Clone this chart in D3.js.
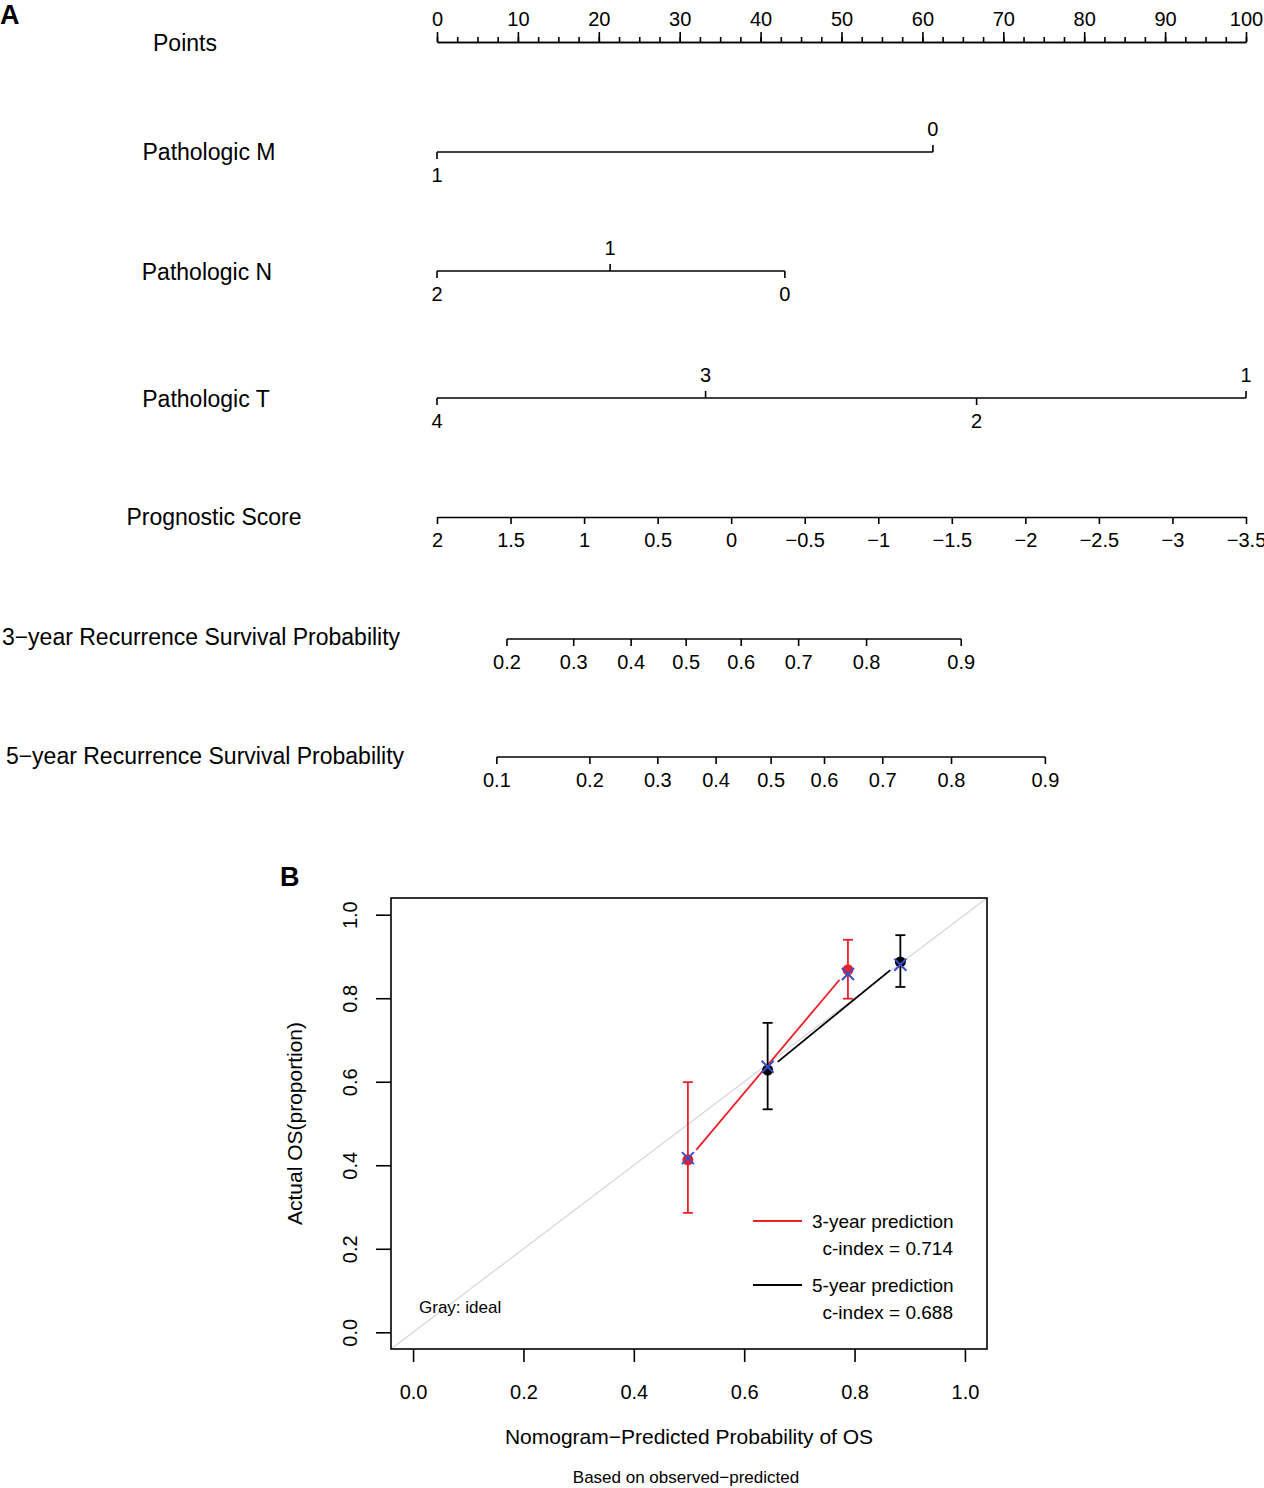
<!DOCTYPE html>
<html>
<head>
<meta charset="utf-8">
<script src="https://cdn.jsdelivr.net/npm/d3@7"></script>
<style>
  body { margin: 0; background: #fff; }
  svg { display: block; font-family: "Liberation Sans", Arial, sans-serif; }
</style>
</head>
<body>
<div id="chart"></div>
<script>
// ---- nomogram data (positions on the 0-100 Points scale) ----
let pointsLabels = [0, 10, 20, 30, 40, 50, 60, 70, 80, 90, 100];

let mLevels = ["1", "0"];
let mPoints = [0, 61.3];

let nLevels = ["2", "1", "0"];
let nPoints = [0, 21.4, 43.0];

let tLevels = ["4", "3", "2", "1"];
let tPoints = [0, 33.2, 66.7, 100];

let scoreTicks = [2, 1.5, 1, 0.5, 0, -0.5, -1, -1.5, -2, -2.5, -3, -3.5];

let surv3Ticks = [0.2, 0.3, 0.4, 0.5, 0.6, 0.7, 0.8, 0.9];
let surv3Points = [8.65, 16.9, 24.0, 30.8, 37.6, 44.7, 53.1, 64.8];

let surv5Ticks = [0.1, 0.2, 0.3, 0.4, 0.5, 0.6, 0.7, 0.8, 0.9];
let surv5Points = [7.4, 18.9, 27.3, 34.5, 41.3, 47.9, 55.1, 63.6, 75.2];

// ---- calibration data ----
let cal3Pred = [0.498, 0.788];
let cal3Obs = [0.413, 0.868];
let cal3Corr = [0.417, 0.858];
let cal3Lo = [0.286, 0.799];
let cal3Hi = [0.599, 0.940];

let cal5Pred = [0.6425, 0.883];
let cal5Obs = [0.628, 0.887];
let cal5Corr = [0.636, 0.880];
let cal5Lo = [0.534, 0.827];
let cal5Hi = [0.741, 0.951];

let calTicks = [0, 0.2, 0.4, 0.6, 0.8, 1.0];

let svgWidth = 1264;
let svgHeight = 1488;

let svg = d3.select("#chart").append("svg")
    .attr("width", svgWidth)
    .attr("height", svgHeight);

let red = "#ec2027";
let blue = "#3b4fc4";

// ================= Panel A =================
svg.append("text")
    .attr("x", 0).attr("y", 24)
    .attr("font-size", 27).attr("font-weight", "bold")
    .text("A");

let xPts = d3.scaleLinear().domain([0, 100]).range([437, 1246]);

// row names
let rowNames = [
    {name: "Points", x: 185, y: 43},
    {name: "Pathologic M", x: 209, y: 152},
    {name: "Pathologic N", x: 207, y: 272},
    {name: "Pathologic T", x: 206, y: 399},
    {name: "Prognostic Score", x: 214, y: 517},
    {name: "3\u2212year Recurrence Survival Probability", x: 201, y: 637},
    {name: "5\u2212year Recurrence Survival Probability", x: 205, y: 756}
];

svg.selectAll(".rowName")
    .data(rowNames)
    .enter()
    .append("text")
    .attr("class", "rowName")
    .attr("x", d => d.x)
    .attr("y", d => d.y)
    .attr("dy", "0.35em")
    .attr("text-anchor", "middle")
    .attr("font-size", 23)
    .text(d => d.name);

// Points axis
let ptsG = svg.append("g").attr("transform", "translate(0, 42)");
ptsG.call(d3.axisTop(xPts)
    .tickValues(d3.range(0, 100.1, 2.5))
    .tickSize(5).tickSizeOuter(0).tickFormat(""));
ptsG.append("g").call(d3.axisTop(xPts)
    .tickValues(pointsLabels)
    .tickSize(10).tickSizeOuter(0).tickPadding(6));
ptsG.selectAll("text").attr("font-size", 20).attr("fill", "#000")
    .attr("font-family", "Liberation Sans, Arial, sans-serif");
ptsG.selectAll("path, line").attr("stroke", "#000").attr("stroke-width", 1.6);

// categorical rows: labels alternate below / above
function drawRow(y, pos, labels, sides) {
    let g = svg.append("g").attr("transform", `translate(0, ${y})`);
    g.append("line")
        .attr("x1", xPts(d3.min(pos))).attr("x2", xPts(d3.max(pos)))
        .attr("y1", 0).attr("y2", 0)
        .attr("stroke", "#000").attr("stroke-width", 1.6);
    let items = pos.map((p, i) => ({p: p, label: labels[i], side: sides[i]}));
    g.selectAll(".tk").data(items).enter().append("line")
        .attr("x1", d => xPts(d.p)).attr("x2", d => xPts(d.p))
        .attr("y1", 0).attr("y2", d => d.side * 7)
        .attr("stroke", "#000").attr("stroke-width", 1.6);
    g.selectAll(".lb").data(items).enter().append("text")
        .attr("x", d => xPts(d.p))
        .attr("y", d => d.side * 23)
        .attr("dy", "0.35em")
        .attr("text-anchor", "middle")
        .attr("font-size", 20)
        .text(d => d.label);
}

drawRow(152, mPoints, mLevels, [1, -1]);
drawRow(271, nPoints, nLevels, [1, -1, 1]);
drawRow(398, tPoints, tLevels, [1, -1, 1, -1]);

// Prognostic score axis
let xScore = d3.scaleLinear().domain([2, -3.5]).range([437, 1246]);
let scoreG = svg.append("g").attr("transform", "translate(0, 517)");
scoreG.call(d3.axisBottom(xScore)
    .tickValues(scoreTicks)
    .tickSize(7).tickSizeOuter(0).tickPadding(9)
    .tickFormat(d => String(d).replace("-", "\u2212")));
scoreG.selectAll("text").attr("font-size", 20).attr("fill", "#000")
    .attr("font-family", "Liberation Sans, Arial, sans-serif");
scoreG.selectAll("path, line").attr("stroke", "#000").attr("stroke-width", 1.6);

// survival probability rows
drawRow(639, surv3Points, surv3Ticks.map(String), surv3Ticks.map(() => 1));
drawRow(757, surv5Points, surv5Ticks.map(String), surv5Ticks.map(() => 1));

// ================= Panel B =================
svg.append("text")
    .attr("x", 280).attr("y", 886)
    .attr("font-size", 27).attr("font-weight", "bold")
    .text("B");

let xB = d3.scaleLinear().domain([-0.04, 1.04]).range([391, 987]);
let yB = d3.scaleLinear().domain([-0.04, 1.04]).range([1349, 898]);

// ideal line
svg.append("line")
    .attr("x1", xB(-0.04)).attr("y1", yB(-0.04))
    .attr("x2", xB(1.04)).attr("y2", yB(1.04))
    .attr("stroke", "#d6d6d6").attr("stroke-width", 1.2);

// frame
svg.append("rect")
    .attr("x", xB(-0.04)).attr("y", yB(1.04))
    .attr("width", xB(1.04) - xB(-0.04))
    .attr("height", yB(-0.04) - yB(1.04))
    .attr("fill", "none").attr("stroke", "#000").attr("stroke-width", 1.6);

// x axis
let xAxisG = svg.append("g").attr("transform", `translate(0, ${yB(-0.04)})`);
xAxisG.call(d3.axisBottom(xB).tickValues(calTicks).tickSize(13).tickPadding(23)
    .tickFormat(d3.format(".1f")));
xAxisG.select(".domain").remove();
xAxisG.selectAll("line").attr("stroke", "#000").attr("stroke-width", 1.6);
xAxisG.selectAll("text").attr("font-size", 20).attr("fill", "#000")
    .attr("font-family", "Liberation Sans, Arial, sans-serif");

// y axis
let yAxisG = svg.append("g").attr("transform", `translate(${xB(-0.04)}, 0)`);
yAxisG.call(d3.axisLeft(yB).tickValues(calTicks).tickSize(15)
    .tickFormat(d3.format(".1f")));
yAxisG.select(".domain").remove();
yAxisG.selectAll("line").attr("stroke", "#000").attr("stroke-width", 1.6);
yAxisG.selectAll("text")
    .attr("x", null).attr("dy", null)
    .attr("text-anchor", "middle")
    .attr("transform", "translate(-34, 0) rotate(-90)")
    .attr("font-size", 20).attr("fill", "#000")
    .attr("font-family", "Liberation Sans, Arial, sans-serif");

// axis titles
svg.append("text")
    .attr("transform", `translate(302, ${(yB(-0.04) + yB(1.04)) / 2}) rotate(-90)`)
    .attr("text-anchor", "middle")
    .attr("font-size", 21)
    .text("Actual OS(proportion)");

svg.append("text")
    .attr("x", (xB(-0.04) + xB(1.04)) / 2).attr("y", 1437)
    .attr("dy", "0.35em")
    .attr("text-anchor", "middle")
    .attr("font-size", 21)
    .text("Nomogram\u2212Predicted Probability of OS");

svg.append("text")
    .attr("x", 686).attr("y", 1477)
    .attr("dy", "0.35em")
    .attr("text-anchor", "middle")
    .attr("font-size", 17)
    .text("Based on observed\u2212predicted");

// calibration series
function drawCal(pred, obs, corr, lo, hi, color) {
    let pts = pred.map((p, i) => ({x: xB(p), y: yB(obs[i]), cy: yB(corr[i]), lo: yB(lo[i]), hi: yB(hi[i])}));

    // connecting line with gaps at the points (type = "b")
    let gap = 13;
    for (let i = 0; i < pts.length - 1; i++) {
        let a = pts[i], b = pts[i + 1];
        let len = Math.hypot(b.x - a.x, b.y - a.y);
        let ux = (b.x - a.x) / len, uy = (b.y - a.y) / len;
        svg.append("line")
            .attr("x1", a.x + ux * gap).attr("y1", a.y + uy * gap)
            .attr("x2", b.x - ux * gap).attr("y2", b.y - uy * gap)
            .attr("stroke", color).attr("stroke-width", 1.8);
    }

    // error bars
    let eb = svg.append("g").attr("stroke", color).attr("stroke-width", 1.8);
    eb.selectAll(".v").data(pts).enter().append("line")
        .attr("x1", d => d.x).attr("x2", d => d.x)
        .attr("y1", d => d.lo).attr("y2", d => d.hi);
    eb.selectAll(".capLo").data(pts).enter().append("line")
        .attr("x1", d => d.x - 5).attr("x2", d => d.x + 5)
        .attr("y1", d => d.lo).attr("y2", d => d.lo);
    eb.selectAll(".capHi").data(pts).enter().append("line")
        .attr("x1", d => d.x - 5).attr("x2", d => d.x + 5)
        .attr("y1", d => d.hi).attr("y2", d => d.hi);

    // observed points
    svg.append("g").selectAll("circle").data(pts).enter().append("circle")
        .attr("cx", d => d.x).attr("cy", d => d.y).attr("r", 5.5)
        .attr("fill", color);

    // bias-corrected crosses
    let cg = svg.append("g").attr("stroke", blue).attr("stroke-width", 2);
    cg.selectAll(".c1").data(pts).enter().append("line")
        .attr("x1", d => d.x - 6).attr("y1", d => d.cy - 6)
        .attr("x2", d => d.x + 6).attr("y2", d => d.cy + 6);
    cg.selectAll(".c2").data(pts).enter().append("line")
        .attr("x1", d => d.x - 6).attr("y1", d => d.cy + 6)
        .attr("x2", d => d.x + 6).attr("y2", d => d.cy - 6);
}

drawCal(cal3Pred, cal3Obs, cal3Corr, cal3Lo, cal3Hi, red);
drawCal(cal5Pred, cal5Obs, cal5Corr, cal5Lo, cal5Hi, "#000");

// legend
let legend = [
    {color: red, title: "3-year prediction", cindex: "c-index = 0.714", y: 1221},
    {color: "#000", title: "5-year prediction", cindex: "c-index = 0.688", y: 1285}
];
let lg = svg.append("g").selectAll("g").data(legend).enter().append("g");
lg.append("line")
    .attr("x1", 753).attr("x2", 802)
    .attr("y1", d => d.y).attr("y2", d => d.y)
    .attr("stroke", d => d.color).attr("stroke-width", 1.8);
lg.append("text")
    .attr("x", 812).attr("y", d => d.y).attr("dy", "0.35em")
    .attr("font-size", 19)
    .text(d => d.title);
lg.append("text")
    .attr("x", 953).attr("y", d => d.y + 27).attr("dy", "0.35em")
    .attr("text-anchor", "end")
    .attr("font-size", 19)
    .text(d => d.cindex);

svg.append("text")
    .attr("x", 419).attr("y", 1307).attr("dy", "0.35em")
    .attr("font-size", 17)
    .text("Gray: ideal");
</script>
</body>
</html>
